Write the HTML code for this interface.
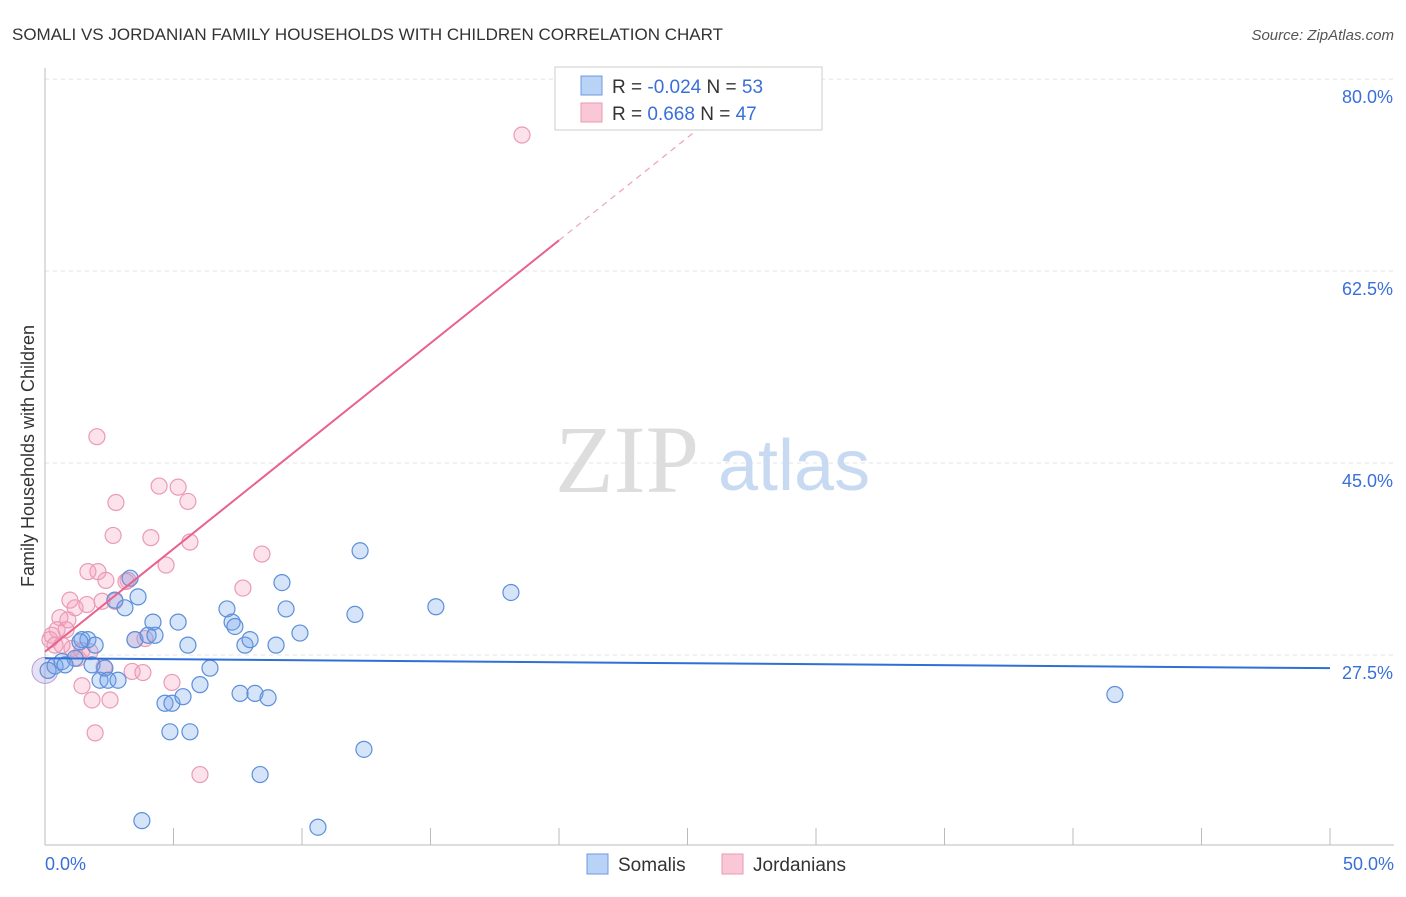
<!DOCTYPE html>
<html><head><meta charset="utf-8"><style>
body{margin:0;background:#fff;font-family:"Liberation Sans",sans-serif}
</style></head><body>
<svg width="1406" height="892" xmlns="http://www.w3.org/2000/svg">
<text x="12" y="40" font-size="17" fill="#333">SOMALI VS JORDANIAN FAMILY HOUSEHOLDS WITH CHILDREN CORRELATION CHART</text>
<text x="1394" y="40" font-size="15" fill="#555" font-style="italic" text-anchor="end">Source: ZipAtlas.com</text>
<g id="grid"></g>
<g id="axes"></g>
<text x="555" y="492" font-size="96" fill="#ddd" font-family="Liberation Serif,serif">ZIP</text>
<text x="718" y="490" font-size="72" fill="#c8daf2">atlas</text>
<text x="34" y="456" font-size="18" fill="#333" text-anchor="middle" transform="rotate(-90 34 456)">Family Households with Children</text>
<g id="marks"></g>
<g id="trends"></g>
<g>
<rect x="555" y="67" width="267" height="63" fill="#fff" stroke="#ccc"/>
<rect x="581" y="76" width="21" height="19" fill="#b8d3f5" stroke="#6a9be0"/>
<rect x="581" y="103" width="21" height="19" fill="#f9c7d6" stroke="#eb9ab4"/>
<text x="612" y="93" font-size="19" fill="#333">R = <tspan fill="#3a6fd8">-0.024</tspan>   N = <tspan fill="#3a6fd8">53</tspan></text>
<text x="612" y="120" font-size="19" fill="#333">R =   <tspan fill="#3a6fd8">0.668</tspan>   N = <tspan fill="#3a6fd8">47</tspan></text>
</g>
<g>
<rect x="587" y="854" width="21" height="20" fill="#b8d3f5" stroke="#6a9be0"/>
<text x="618" y="871" font-size="19" fill="#333">Somalis</text>
<rect x="722" y="854" width="21" height="20" fill="#f9c7d6" stroke="#eb9ab4"/>
<text x="753" y="871" font-size="19" fill="#333">Jordanians</text>
</g>
</svg>
<script>
const yTicks=[80,62.5,45,27.5];
const yTickLabels=["80.0%","62.5%","45.0%","27.5%"];
const xEnds=["0.0%","50.0%"];
const somaliX=[0.12,0.39,0.66,1.17,1.44,1.67,1.95,1.83,2.14,2.33,2.45,2.84,2.72,3.11,3.31,3.62,3.5,4.01,4.28,4.2,5.18,5.56,4.67,4.94,5.37,6.03,6.42,4.86,5.64,3.77,7.08,7.28,7.39,7.78,7.98,7.59,8.17,8.68,8.37,9.22,9.38,8.99,9.92,10.62,12.06,12.26,12.41,15.21,18.13,41.63,1.36,0.78];
const somaliY=[26.1,26.5,26.9,27.2,28.9,28.9,28.4,26.6,25.2,26.3,25.2,25.2,32.5,31.8,34.5,32.8,28.9,29.3,29.3,30.5,30.5,28.4,23.1,23.1,23.7,24.8,26.3,20.5,20.5,12.4,31.7,30.5,30.1,28.4,28.9,24.0,24.0,23.6,16.6,34.1,31.7,28.4,29.5,11.8,31.2,37.0,18.9,31.9,33.2,23.9,28.7,26.6];
const jordX=[18.56,2.02,2.76,4.44,5.18,5.56,2.65,4.12,5.64,8.44,4.71,1.67,2.06,3.23,2.37,7.7,0.97,1.17,1.63,2.22,2.72,0.58,0.89,0.27,0.47,0.82,0.19,0.39,1.05,1.44,1.28,2.3,3.39,3.81,4.94,1.44,1.83,2.53,1.95,6.03,3.5,3.89,3.15,0.66,1.75];
const jordY=[74.9,47.4,41.4,42.9,42.8,41.5,38.4,38.2,37.8,36.7,35.7,35.1,35.1,34.3,34.3,33.6,32.5,31.8,32.1,32.4,32.4,30.9,30.7,29.3,29.8,29.8,28.9,28.4,28.1,27.9,27.2,26.4,26.0,25.9,25.0,24.7,23.4,23.4,20.4,16.6,28.9,29.0,34.2,28.4,27.8];
const somaliTrend=[27.2,26.3];
const jordTrend=[27.8,1.875];
const NS="http://www.w3.org/2000/svg";
const X=v=>45+v*25.7, Y=v=>655-(v-27.5)*10.97;
function mk(t,a,p){const e=document.createElementNS(NS,t);for(const k in a)e.setAttribute(k,a[k]);p.appendChild(e);return e;}
const grid=document.getElementById('grid'),axes=document.getElementById('axes'),marks=document.getElementById('marks'),tr=document.getElementById('trends');
yTicks.forEach((t,i)=>{
 const l=mk('line',{x1:45,x2:1394,y1:Y(t),y2:Y(t),stroke:'#e3e3e3','stroke-dasharray':'4,4'},grid);
 
 
 const tx=mk('text',{x:1393,y:Y(t)+24,'font-size':18,fill:'#3a6fd8','text-anchor':'end'},axes);
 tx.textContent=yTickLabels[i];
 
 
});
mk('line',{x1:45,x2:45,y1:68,y2:845,stroke:'#bbb'},axes);
mk('line',{x1:45,x2:1394,y1:845,y2:845,stroke:'#bbb'},axes);
for(let i=0;i<=10;i++){const t=mk('line',{x1:X(i*5),x2:X(i*5),y1:828,y2:845,stroke:'#bbb'},axes);
 
 }
const x0=mk('text',{x:45,y:870,'font-size':18,fill:'#3a6fd8'},axes);x0.textContent=xEnds[0];


const x1=mk('text',{x:1394,y:870,'font-size':18,fill:'#3a6fd8','text-anchor':'end'},axes);x1.textContent=xEnds[1];


const big=mk('circle',{cx:X(0),cy:Y(26.1),r:13,fill:'rgba(190,170,220,0.35)',stroke:'#b0a0d8'},marks);


jordX.forEach((v,i)=>{const c=mk('circle',{cx:X(v),cy:Y(jordY[i]),r:8,fill:'rgba(245,160,190,0.3)',stroke:'#eb9ab4','stroke-width':1.2},marks);
 
 });
somaliX.forEach((v,i)=>{const c=mk('circle',{cx:X(v),cy:Y(somaliY[i]),r:8,fill:'rgba(120,165,235,0.3)',stroke:'#5b8fd9','stroke-width':1.2},marks);
 
 });
const bl=mk('line',{x1:X(0),y1:Y(somaliTrend[0]),x2:X(50),y2:Y(somaliTrend[1]),stroke:'#2f6fd6','stroke-width':2},tr);


const pl=mk('line',{x1:X(0),y1:Y(jordTrend[0]),x2:X(20),y2:Y(jordTrend[0]+jordTrend[1]*20),stroke:'#e8618f','stroke-width':2},tr);


const pd=mk('line',{x1:X(20),y1:Y(jordTrend[0]+jordTrend[1]*20),x2:X(25.5),y2:Y(jordTrend[0]+jordTrend[1]*25.5),stroke:'#f0a0bb','stroke-width':1.2,'stroke-dasharray':'6,5'},tr);


</script>
</body></html>
